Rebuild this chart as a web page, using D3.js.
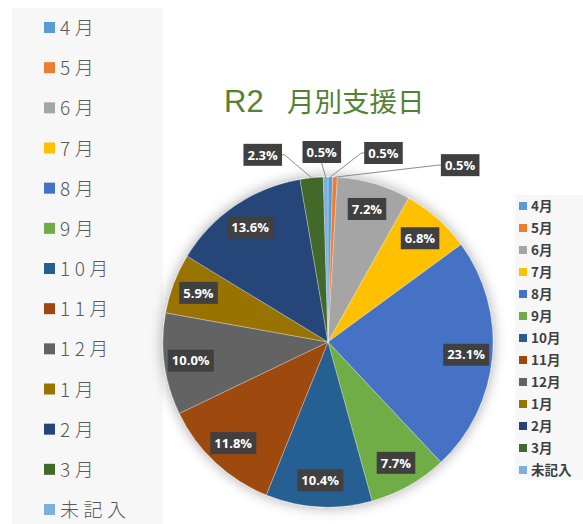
<!DOCTYPE html>
<html>
<head>
<meta charset="utf-8">
<script src="https://cdn.jsdelivr.net/npm/d3@7"></script>
<style>
  body { margin: 0; background: #ffffff; }
  svg { display: block; }
</style>
</head>
<body>
<div id="chart"></div>
<script>
    // data (count of support days per month, total 221)
    var months = ["4月", "5月", "6月", "7月", "8月", "9月", "10月", "11月", "12月", "1月", "2月", "3月", "未記入"];
    var counts = [1, 1, 16, 15, 51, 17, 23, 26, 22, 13, 30, 5, 1];
    var colors = ["#5B9BD5", "#ED7D31", "#A5A5A5", "#FFC000", "#4472C4", "#70AD47",
                  "#255E91", "#9E480E", "#636363", "#997300", "#264478", "#43682B", "#7CAFDD"];
    var titleParts = ["R2", "月別支援日"];

    // small slices get their label pulled outside, offset from the arc edge
    var outsideLabels = {
        "3月": [-49, -23],
        "未記入": [-4, -25],
        "4月": [53, -24],
        "5月": [125, -12]
    };

    function init() {
        var w = 583;
        var h = 524;
        var cx = 328, cy = 342, radius = 165;
        var jpFont = "'Noto Sans CJK JP', 'Noto Sans', sans-serif";

        var dataset = months.map(function(m, i) {
            return { month: m, count: counts[i], color: colors[i] };
        });
        var total = d3.sum(counts);
        var pct = d3.format(".1%");

        var svg = d3.select("#chart")
            .append("svg")
            .attr("width", w)
            .attr("height", h);

        var defs = svg.append("defs");
        var shadow = defs.append("filter")
            .attr("id", "pieShadow")
            .attr("x", "-20%").attr("y", "-20%")
            .attr("width", "140%").attr("height", "140%");
        shadow.append("feGaussianBlur")
            .attr("in", "SourceAlpha")
            .attr("stdDeviation", 7);
        shadow.append("feComponentTransfer")
            .append("feFuncA").attr("type", "linear").attr("slope", 0.35);
        var merge = shadow.append("feMerge");
        merge.append("feMergeNode");
        merge.append("feMergeNode").attr("in", "SourceGraphic");

        // left legend panel
        var leftLegend = svg.append("g");
        leftLegend.append("rect")
            .attr("x", 12).attr("y", 8)
            .attr("width", 151).attr("height", h)
            .attr("fill", "#f7f7f7");

        var yLeft = d3.scalePoint()
            .domain(months)
            .range([28, 510]);

        var leftItems = leftLegend.selectAll(".litem")
            .data(dataset)
            .enter().append("g")
            .attr("class", "litem")
            .attr("transform", function(d) { return "translate(44," + yLeft(d.month) + ")"; });
        leftItems.append("rect")
            .attr("x", 0).attr("y", -6)
            .attr("width", 11).attr("height", 11)
            .attr("fill", function(d) { return d.color; });
        leftItems.append("text")
            .attr("x", 16)
            .attr("y", 7)
            .attr("font-family", jpFont)
            .attr("font-size", "19px")
            .attr("font-weight", 300)
            .attr("letter-spacing", "4.5px")
            .attr("fill", "#595959")
            .text(function(d) { return d.month; });

        // title
        var title = svg.append("text")
            .attr("y", 112)
            .attr("font-family", jpFont)
            .attr("fill", "#548235");
        title.append("tspan")
            .attr("x", 224)
            .attr("font-family", "'Liberation Sans', Arial, sans-serif")
            .attr("font-size", "31px")
            .text(titleParts[0]);
        title.append("tspan")
            .attr("x", 287)
            .attr("font-size", "27.5px")
            .text(titleParts[1]);

        // pie
        var pie = d3.pie()
            .sort(null)
            .value(function(d) { return d.count; });
        var arcs = pie(dataset);
        var arc = d3.arc().innerRadius(0).outerRadius(radius);
        var labelArc = d3.arc().innerRadius(radius * 0.84).outerRadius(radius * 0.84);
        var edgeArc = d3.arc().innerRadius(radius).outerRadius(radius);

        var pieG = svg.append("g")
            .attr("transform", "translate(" + cx + "," + cy + ")");

        pieG.append("g")
            .attr("filter", "url(#pieShadow)")
            .selectAll("path")
            .data(arcs)
            .enter().append("path")
            .attr("d", arc)
            .attr("fill", function(d) { return d.data.color; })
            .attr("stroke", "#ffffff")
            .attr("stroke-opacity", 0.5)
            .attr("stroke-width", 0.6);

        // label positions
        arcs.forEach(function(d) {
            var off = outsideLabels[d.data.month];
            if (off) {
                var e = edgeArc.centroid(d);
                d.anchor = e;
                d.lx = e[0] + off[0];
                d.ly = e[1] + off[1];
                d.outside = true;
            } else {
                var c = labelArc.centroid(d);
                d.lx = c[0];
                d.ly = c[1];
                d.outside = false;
            }
            d.label = pct(d.data.count / total);
        });

        // leader lines for the outside labels
        pieG.selectAll(".leader")
            .data(arcs.filter(function(d) { return d.outside; }))
            .enter().append("polyline")
            .attr("class", "leader")
            .attr("fill", "none")
            .attr("stroke", "#8c8c8c")
            .attr("stroke-width", 1)
            .attr("points", function(d) {
                var hw = d.label.length * 4 + 1;
                var a = d.anchor;
                if (Math.abs(d.lx - a[0]) < hw) {
                    return [a, [d.lx, d.ly + 11]].join(" ");
                }
                var side = d.lx < a[0] ? 1 : -1;
                var edgeX = d.lx + side * hw;
                return [a, [edgeX + side * 5, d.ly], [edgeX, d.ly]].join(" ");
            });

        var labels = pieG.selectAll(".plabel")
            .data(arcs)
            .enter().append("g")
            .attr("class", "plabel")
            .attr("transform", function(d) { return "translate(" + d.lx + "," + d.ly + ")"; });
        labels.append("text")
            .attr("text-anchor", "middle")
            .attr("dy", "0.36em")
            .attr("font-family", "'Open Sans', 'DejaVu Sans', sans-serif")
            .attr("font-weight", "bold")
            .attr("font-size", "13px")
            .attr("fill", "#ffffff")
            .text(function(d) { return d.label; })
            .each(function(d) {
                var bb = this.getBBox();
                d3.select(this.parentNode).insert("rect", "text")
                    .attr("x", bb.x - 4)
                    .attr("y", -11)
                    .attr("width", bb.width + 8)
                    .attr("height", 22)
                    .attr("fill", "#404040");
            });

        // right legend panel
        var rightLegend = svg.append("g");
        rightLegend.append("rect")
            .attr("x", 515).attr("y", 195)
            .attr("width", 68).attr("height", 285)
            .attr("fill", "#f7f7f7");

        var yRight = d3.scalePoint()
            .domain(months)
            .range([206, 470]);

        var rightItems = rightLegend.selectAll(".ritem")
            .data(dataset)
            .enter().append("g")
            .attr("class", "ritem")
            .attr("transform", function(d) { return "translate(519," + yRight(d.month) + ")"; });
        rightItems.append("rect")
            .attr("x", 0).attr("y", -4)
            .attr("width", 8).attr("height", 8)
            .attr("fill", function(d) { return d.color; });
        rightItems.append("text")
            .attr("x", 12)
            .attr("y", 5)
            .attr("font-family", jpFont)
            .attr("font-size", "13.5px")
            .attr("font-weight", "bold")
            .attr("fill", "#404040")
            .text(function(d) { return d.month; });
    }

    init();
</script>
</body>
</html>
